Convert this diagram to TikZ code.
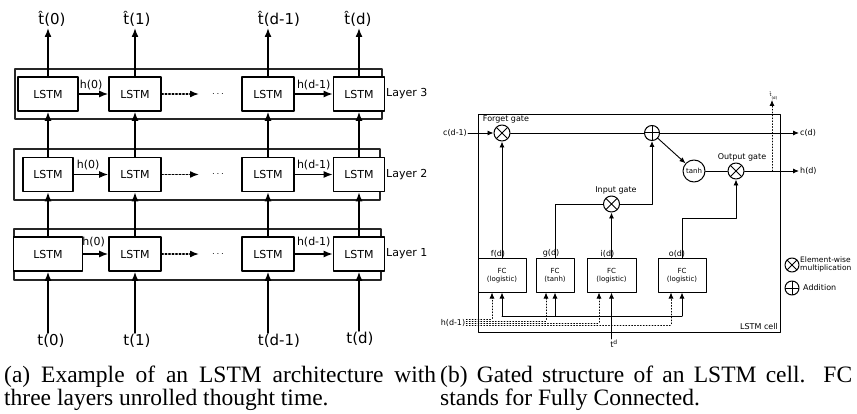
\documentclass[tikz,border=0pt]{standalone}
\usepackage{fontspec}
\setmainfont{Liberation Serif}
\newfontfamily\diagfont{DejaVu Sans}
\usetikzlibrary{arrows.meta,calc,positioning}

\begin{document}
\begin{tikzpicture}[x=1pt,y=-1pt,>=Latex,line cap=round,line join=round]
\useasboundingbox[fill=white] (0,0) rectangle (857,414);
\tikzset{lstm/.style={draw,fill=white,line width=1.6pt,minimum height=34pt,inner sep=0pt,font=\diagfont\fontsize{11}{13}\selectfont},layerbox/.style={draw=black!85,line width=1.4pt},bigarrow/.style={line width=1.5pt,-{Latex[length=9pt,width=7pt]}},seqlabel/.style={font=\diagfont\fontsize{15}{17}\selectfont,inner sep=1pt},hlabel/.style={font=\diagfont\fontsize{11}{13}\selectfont,inner sep=0pt,anchor=south},layerlabel/.style={font=\diagfont\fontsize{11}{13}\selectfont,anchor=west,inner sep=0pt}}
\tikzset{thinline/.style={line width=0.9pt},thinarrow/.style={line width=0.9pt,-{Latex[length=6pt,width=5pt]}},small/.style={font=\diagfont\fontsize{8}{9}\selectfont,inner sep=1pt},fc/.style={draw,line width=1pt,minimum height=33pt,inner sep=0pt,align=center,font=\diagfont\fontsize{7}{8.5}\selectfont},mulgate/.style={circle,draw,fill=white,line width=1pt,minimum size=16pt,inner sep=0pt,path picture={\draw[line width=1pt] (path picture bounding box.south west) -- (path picture bounding box.north east) (path picture bounding box.north west) -- (path picture bounding box.south east);}},addgate/.style={circle,draw,fill=white,line width=1pt,minimum size=15pt,inner sep=0pt,path picture={\draw[line width=1pt] (path picture bounding box.north) -- (path picture bounding box.south) (path picture bounding box.west) -- (path picture bounding box.east);}},caption/.style={font=\fontsize{23.5}{22.5}\selectfont,align=justify,inner sep=0pt,anchor=north west}}
% (a) unrolled layers
\draw[layerbox] (15,69) rectangle (382,119); \draw[layerbox] (14,149) rectangle (380,200); \draw[layerbox] (14,229) rectangle (381,280);
\node[lstm,minimum width=60pt] (l31) at (48,94) {LSTM}; \node[lstm,minimum width=52pt] (l32) at (135,94) {LSTM}; \node[lstm,minimum width=52pt] (l33) at (268,94) {LSTM}; \node[lstm,minimum width=51pt] (l34) at (359,94) {LSTM};
\node[lstm,minimum width=50pt] (l21) at (48,174.5) {LSTM}; \node[lstm,minimum width=52pt] (l22) at (135,174.5) {LSTM}; \node[lstm,minimum width=52pt] (l23) at (268,174.5) {LSTM}; \node[lstm,minimum width=51pt] (l24) at (359,174.5) {LSTM};
\node[lstm,minimum width=69pt] (l11) at (48,254) {LSTM}; \node[lstm,minimum width=52pt] (l12) at (135,254) {LSTM}; \node[lstm,minimum width=52pt] (l13) at (268,254) {LSTM}; \node[lstm,minimum width=51pt] (l14) at (359,254) {LSTM};
\node[layerlabel] (lay3) at (386,94) {Layer 3}; \node[layerlabel] (lay2) at (386,174.5) {Layer 2}; \node[layerlabel] (lay1) at (386,254) {Layer 1};
\foreach \l/\y/\up in {3/94/3,2/174.5/4,1/254/6} {
  \draw[bigarrow] (l\l1) -- (l\l2) node[hlabel,pos=.42,yshift=\up pt] {h(0)};
  \draw[bigarrow] (l\l3) -- (l\l4) node[hlabel,pos=.5,yshift=\up pt] {h(d-1)};
  \coordinate (dt\l) at (199,\y); \draw[bigarrow,dotted] (l\l2) -- (dt\l);
  \node[inner sep=0pt] (dots\l) at (218,\y) {$\cdots$};
}
\node[seqlabel,anchor=south] (o1) at (52,28) {\^{t}(0)}; \node[seqlabel,anchor=south] (o2) at (137,28) {\^{t}(1)}; \node[seqlabel,anchor=south] (o3) at (279,28) {\^{t}(d-1)}; \node[seqlabel,anchor=south] (o4) at (358,28) {\^{t}(d)};
\node[seqlabel,anchor=north] (i1) at (51,333) {t(0)}; \node[seqlabel,anchor=north] (i2) at (137,333) {t(1)}; \node[seqlabel,anchor=north] (i3) at (279,333) {t(d-1)}; \node[seqlabel,anchor=north] (i4) at (360,331) {t(d)};
\foreach \c in {1,2,3,4} {
  \draw[bigarrow] (l1\c) -- (l2\c); \draw[bigarrow] (l2\c) -- (l3\c);
  \draw[bigarrow] (l3\c) -- (l3\c |- o\c.south); \draw[bigarrow] (l1\c |- i\c.north) -- (l1\c);
}
% (b) gated cell
\draw[thinline] (478,114) rectangle (780,332);
\node[small,anchor=south east] (celllbl) at (779,331) {LSTM cell};
\node[mulgate] (fg) at (502,133) {}; \node[addgate] (add) at (652,133) {}; \node[circle,draw,line width=1pt,minimum size=22pt,inner sep=0pt,font=\diagfont\fontsize{7}{8}\selectfont] (th) at (694,171) {tanh}; \node[mulgate] (og) at (736,171) {}; \node[mulgate] (ig) at (611.5,204) {};
\node[small,above=0pt of fg,xshift=4pt] (fglbl) {Forget gate}; \node[small,above=0pt of ig,xshift=4.5pt] (iglbl) {Input gate}; \node[small,above=0pt of og,xshift=6pt] (oglbl) {Output gate};
\node[small] (cprev) at (455,133) {c(d-1)}; \node[small,anchor=west] (cnext) at (799,133) {c(d)}; \node[small,anchor=west] (hnext) at (799,171) {h(d)};
\draw[thinarrow] (cprev) -- (fg); \draw[thinline] (fg) -- (add); \draw[thinarrow] (add) -- (cnext); \draw[thinarrow] (add) -- (th); \draw[thinline] (th) -- (og); \draw[thinarrow] (og) -- (hnext);
\coordinate (tap) at (772,171); \node[font=\diagfont\fontsize{5}{6}\selectfont,inner sep=0pt,anchor=south west] (that) at (769.5,100) {\^{t}\raisebox{-3pt}{\fontsize{4}{4}\selectfont(d)}};
\draw[thinarrow,dotted,line width=0.8pt] (tap) -- (tap |- that.south);
\node[fc,minimum width=48pt] (fcf) at (502,275.5) {FC\\(logistic)}; \node[fc,minimum width=38pt] (fcg) at (555,275.5) {FC\\(tanh)}; \node[fc,minimum width=49pt] (fci) at (611.5,275.5) {FC\\(logistic)}; \node[fc,minimum width=48pt] (fco) at (682,275.5) {FC\\(logistic)};
\node[small,above=0pt of fcf,xshift=-4pt] (flbl) {f(d)}; \node[small,above=0pt of fcg,xshift=-4pt] (glbl) {g(d)}; \node[small,above=0pt of fci,xshift=-4pt] (ilbl) {i(d)}; \node[small,above=0pt of fco,xshift=-5pt] (olbl) {o(d)};
\draw[thinarrow] (fcf) -- (fg); \draw[thinline] (fcg.north) |- (ig.west); \draw[thinarrow] (fci) -- (ig); \draw[thinarrow] (ig.east) -| (add.south); \draw[thinarrow] (fco.north) -- ++(0,-40) -| (og.south);
% inputs of the FC layers
\node[small,anchor=north] (td) at (614,339) {t\textsuperscript{d}}; \draw[thinarrow] (fci |- td.north) -- (fci.south);
\draw[thinline] (fcf.south |- 0,316) -- (fco.south |- 0,316);
\foreach \n in {fcf,fcg,fco} \draw[thinarrow] (\n.south |- 0,316) -- (\n.south);
\node[small] (hprev) at (453,323) {h(d-1)};
\foreach \n/\dy/\dx in {fcf/4/-10,fcg/2/-9,fci/0/-12.5,fco/-2/-11} \draw[thinarrow,dotted,line width=0.8pt] ([yshift=\dy pt]hprev.east) -| ([xshift=\dx pt]\n.south);
% legend
\node[mulgate,minimum size=14pt] (legm) at (792,265) {}; \node[small,anchor=west,align=left,font=\diagfont\fontsize{7.5}{8}\selectfont] (legmt) at (799,264.5) {Element-wise\\multiplication};
\node[addgate,minimum size=14pt] (lega) at (792,288) {}; \node[small,anchor=west] (legat) at (802,288) {Addition};
% captions
\node[caption,text width=432pt] (capa) at (4,366) {(a) Example of an LSTM architecture with\linebreak three layers unrolled thought time.};
\node[caption,text width=412pt] (capb) at (440,366) {(b) Gated structure of an LSTM cell. FC\linebreak stands for Fully Connected.};
\end{tikzpicture}
\end{document}
